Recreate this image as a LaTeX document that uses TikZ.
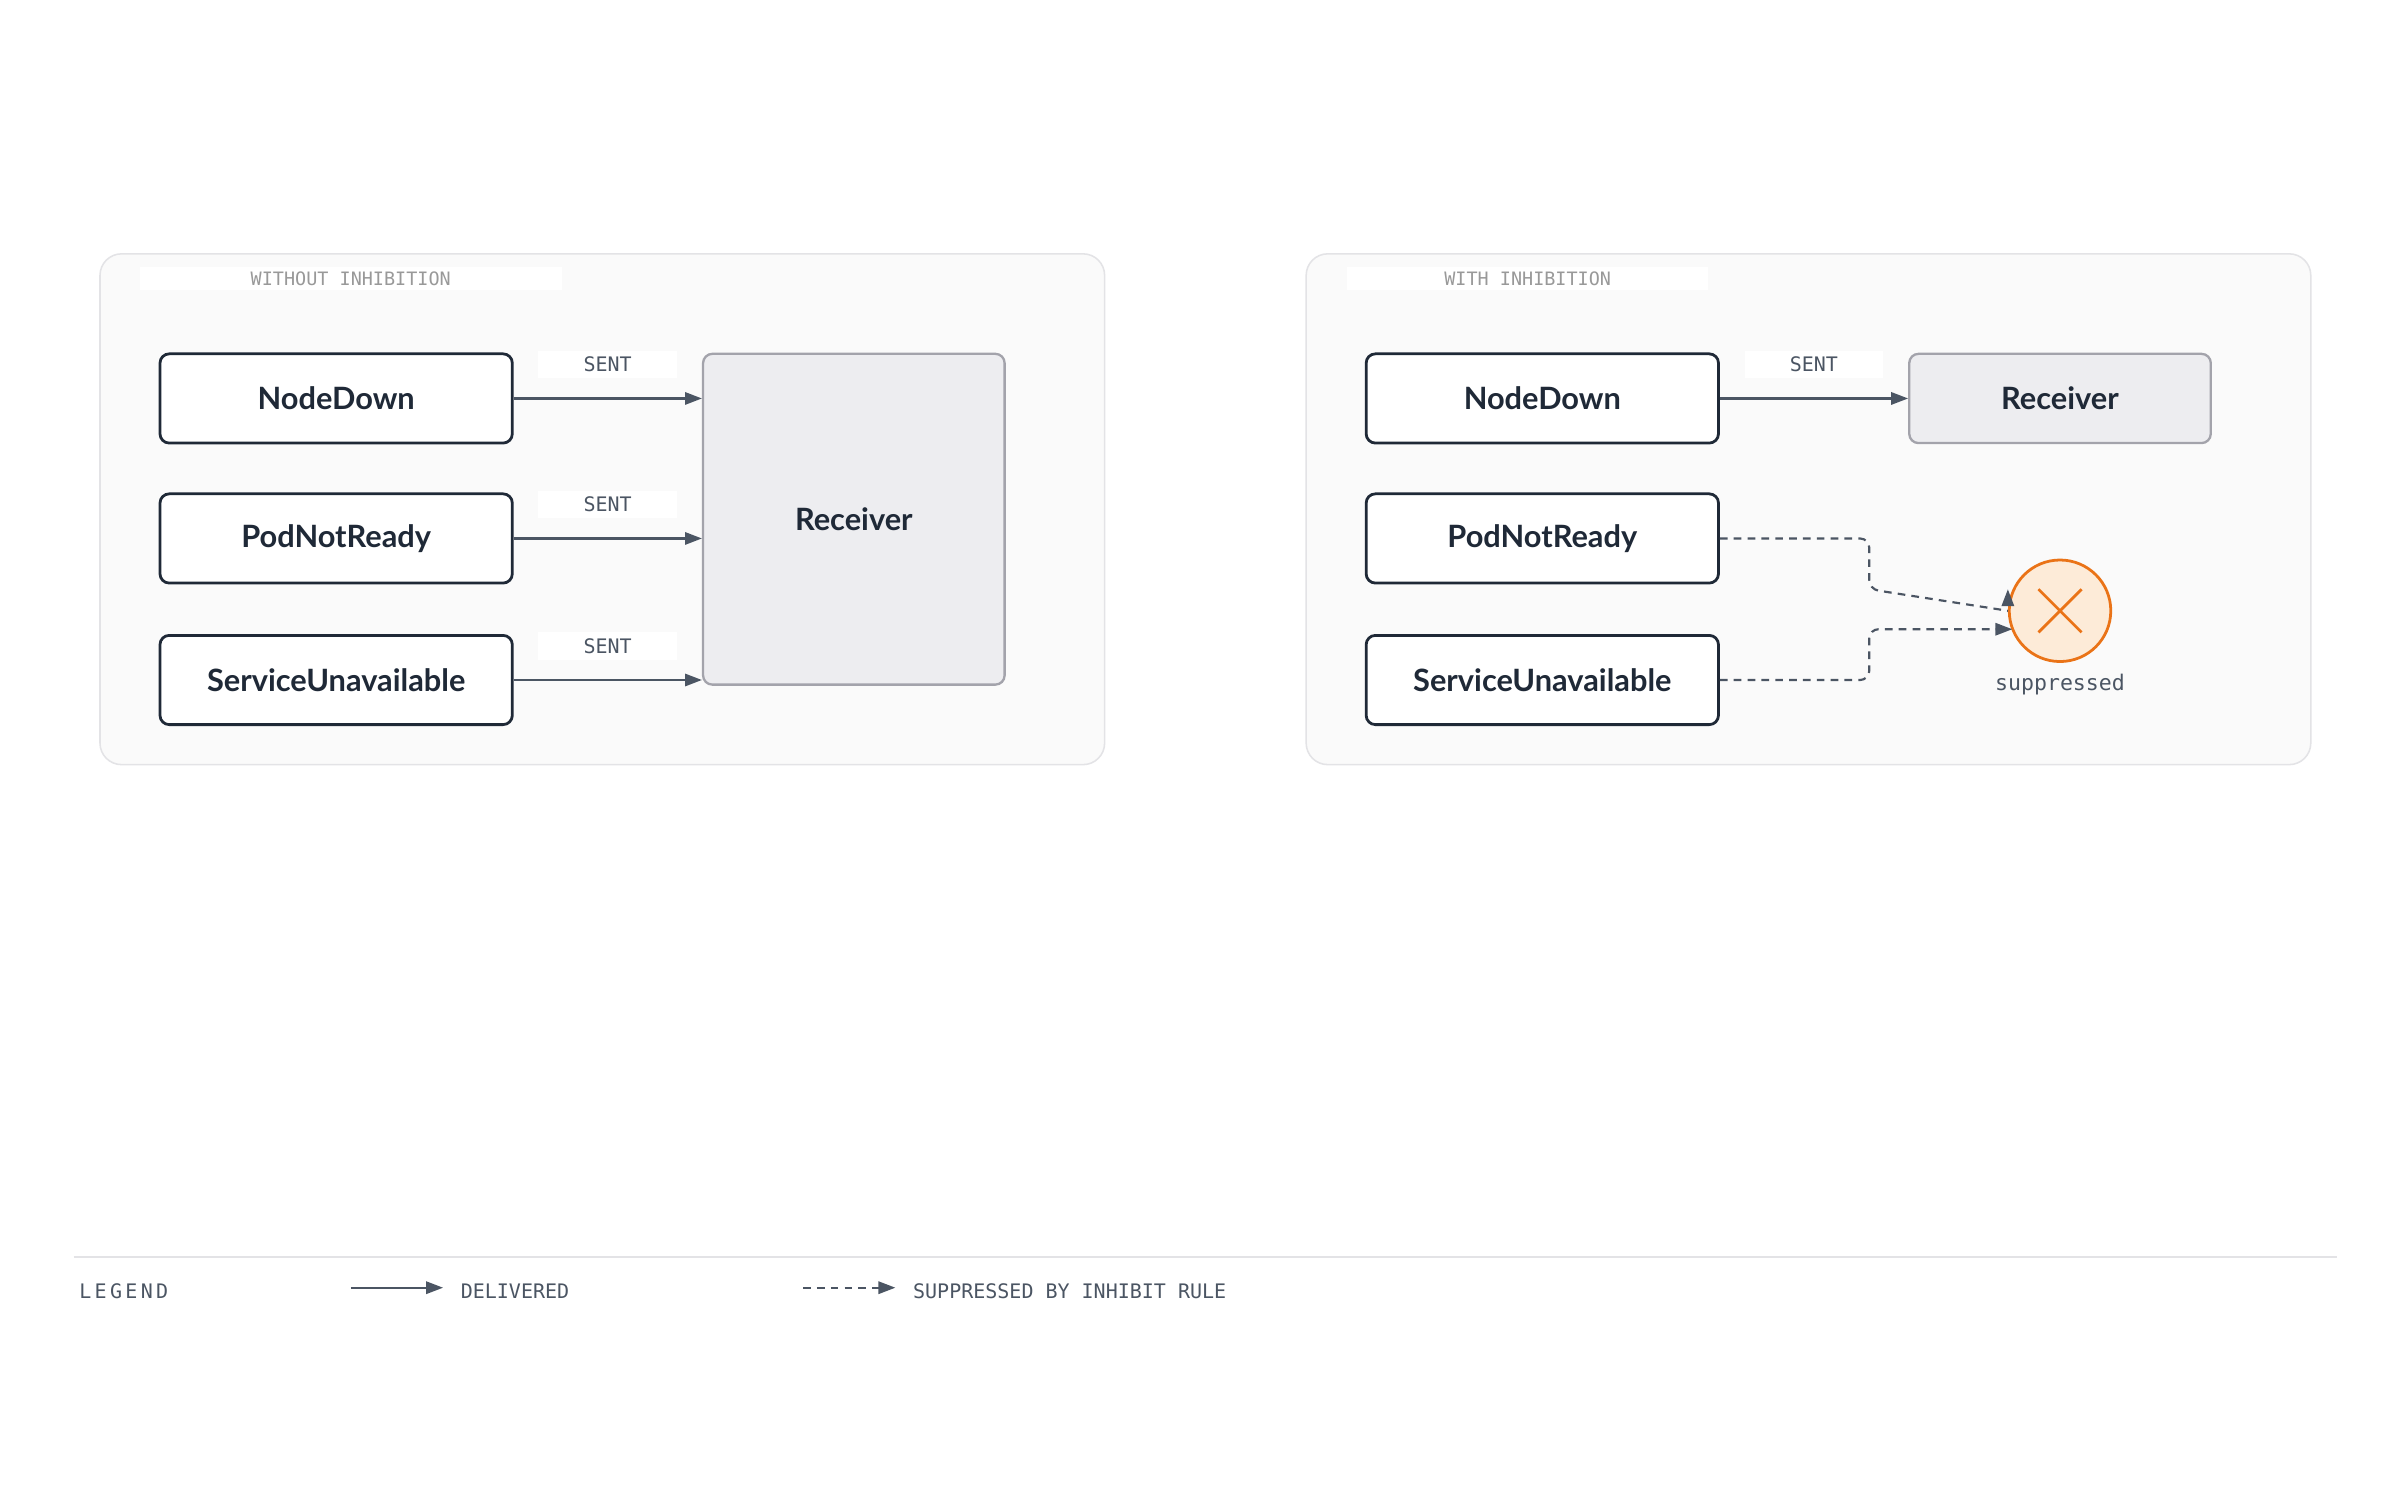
\documentclass[tikz,border=0pt]{standalone}
\usepackage{fontspec}
\setmainfont{Lato}
\newfontfamily\monofont{DejaVu Sans Mono}
\usetikzlibrary{arrows.meta,positioning}
\definecolor{ink}{HTML}{1F2937}
\definecolor{wire}{HTML}{4B5563}
\definecolor{panelbg}{HTML}{FAFAFA}
\definecolor{panelline}{HTML}{E3E3E6}
\definecolor{recvbg}{HTML}{EDEDF0}
\definecolor{recvline}{HTML}{A3A3AB}
\definecolor{supfill}{HTML}{FDEBD8}
\definecolor{supline}{HTML}{EA7317}
\tikzset{
  alert/.style={draw=ink, line width=1.8pt, rounded corners=6pt, fill=white,
    minimum width=229pt, minimum height=58pt, font=\fontsize{20}{24}\selectfont\bfseries, text=ink},
  recv/.style={draw=recvline, line width=1.5pt, rounded corners=6pt, fill=recvbg,
    font=\fontsize{20}{24}\selectfont\bfseries, text=ink},
  panel/.style={draw=panelline, line width=1pt, rounded corners=14pt, fill=panelbg},
  ptitle/.style={fill=white, text=gray!80, font=\monofont\fontsize{12}{14}\selectfont, inner sep=3pt},
  tag/.style={fill=white, text=wire, font=\monofont\fontsize{13}{15}\selectfont, minimum width=90pt, minimum height=18pt, inner sep=0pt},
  sent/.style={draw=wire, line width=1.4pt, -{Triangle[length=11pt,width=8pt]}},
  held/.style={draw=wire, line width=1.4pt, dash pattern=on 5pt off 4pt, -{Triangle[length=11pt,width=8pt]}},
}
\begin{document}
\begin{tikzpicture}[x=1pt, y=-1pt]
\useasboundingbox[fill=white] (0,0) rectangle (1560,976);
% Panels
\draw[panel] (65,165) rectangle (718,497);
\draw[panel] (849,165) rectangle (1502,497);
\node[ptitle, minimum width=274pt] (t1) at (228,181) {WITHOUT INHIBITION};
\node[ptitle, minimum width=235pt] (t2) at (993,181) {WITH INHIBITION};

% Left: without inhibition
\node[alert] (a1) at (218.5,259) {NodeDown};
\node[alert] (a2) at (218.5,350) {PodNotReady};
\node[alert] (a3) at (218.5,442) {ServiceUnavailable};
\node[recv, minimum width=196pt, minimum height=215pt] (r1) at (555,337.5) {Receiver};
\draw[sent] (a1.east) -- (a1.east -| r1.west);
\draw[sent] (a2.east) -- (a2.east -| r1.west);
\draw[sent] (a3.east) -- (a3.east -| r1.west);
\node[tag] (s1) at (395,237) {SENT};
\node[tag] (s2) at (395,328) {SENT};
\node[tag] (s3) at (395,420) {SENT};

% Right: with inhibition
\node[alert] (b1) at (1002.5,259) {NodeDown};
\node[alert] (b2) at (1002.5,350) {PodNotReady};
\node[alert] (b3) at (1002.5,442) {ServiceUnavailable};
\node[recv, minimum width=196pt, minimum height=58pt] (r2) at (1339,259) {Receiver};
\draw[sent] (b1) -- (r2);
\node[tag] (s4) at (1179,237) {SENT};
\node[circle, draw=supline, fill=supfill, line width=1.8pt, minimum size=66pt, inner sep=0pt] (x) at (1339,397) {};
\draw[supline, line width=1.8pt] (x.center) +(-14,-14) -- +(14,14) +(14,-14) -- +(-14,14);
\node[below=4pt of x, text=wire, font=\monofont\fontsize{14}{16}\selectfont] (sup) {suppressed};
\draw[held, rounded corners=6pt] (b2.east) -- (1215,350) -- (1215,383) -- (x.center -| x.west) ++(0,-14) coordinate (x1);
\draw[held, rounded corners=6pt] (b3.east) -- (1215,442) -- (1215,409) -- (1308,409);

% Legend
\draw[panelline, line width=1pt] (48,817) -- (1519,817);
\node[text=wire, font=\monofont\fontsize{13}{15}\selectfont, anchor=west] (lg) at (48,839) {L\,E\,G\,E\,N\,D};
\coordinate (l1) at (228,837);
\coordinate (l2) at (288,837);
\draw[sent] (l1) -- (l2);
\node[text=wire, font=\monofont\fontsize{13}{15}\selectfont, anchor=west] (ld) at (296,839) {DELIVERED};
\coordinate (l3) at (522,837);
\coordinate (l4) at (582,837);
\draw[held] (l3) -- (l4);
\node[text=wire, font=\monofont\fontsize{13}{15}\selectfont, anchor=west] (ls) at (590,839) {SUPPRESSED BY INHIBIT RULE};
\end{tikzpicture}
\end{document}
